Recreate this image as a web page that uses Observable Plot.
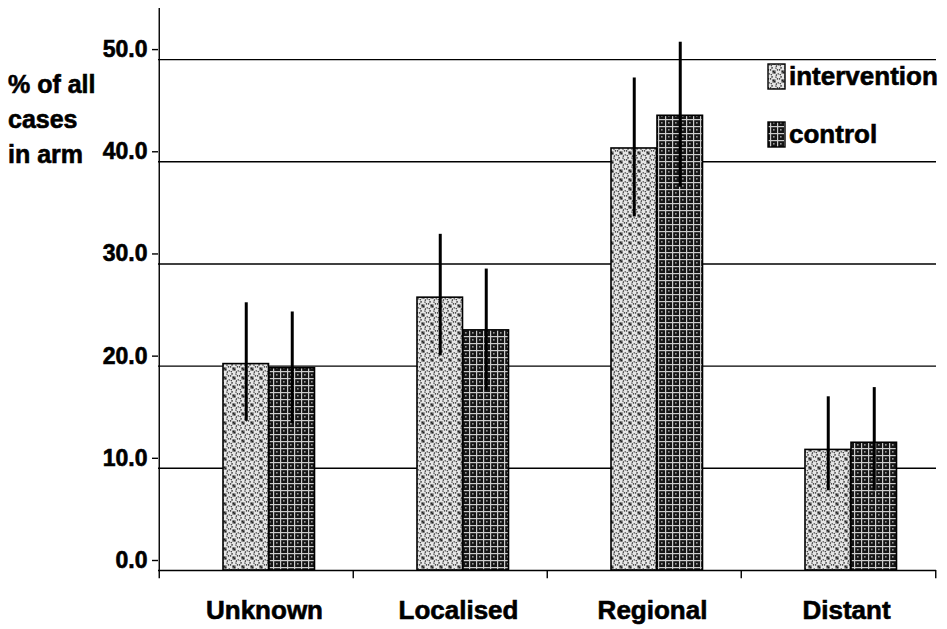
<!DOCTYPE html>
<html>
<head>
<meta charset="utf-8">
<script src="https://cdn.jsdelivr.net/npm/d3@7"></script>
<script src="https://cdn.jsdelivr.net/npm/@observablehq/plot@0.6"></script>
<style>
  html, body { margin: 0; padding: 0; background: #fff; }
  #chart { position: relative; width: 947px; height: 629px; }
</style>
</head>
<body>
<div id="chart"></div>
<script>
// ---- data ----
const categories = ["Unknown", "Localised", "Regional", "Distant"];
const seriesNames = ["intervention", "control"];
const intervention = [20.2, 26.7, 41.3, 11.8];
const interventionLow = [14.6, 21.0, 34.6, 7.8];
const interventionHigh = [26.2, 32.9, 48.2, 17.0];
const control = [19.8, 23.5, 44.5, 12.5];
const controlLow = [14.4, 17.6, 37.5, 7.8];
const controlHigh = [25.3, 29.5, 51.7, 17.9];
const yTicks = [0, 10, 20, 30, 40, 50];
const yLabelLines = ["% of all", "cases", "in arm"];

const intData = categories.map((c, i) => ({cat: c, v: intervention[i], lo: interventionLow[i], hi: interventionHigh[i]}));
const ctlData = categories.map((c, i) => ({cat: c, v: control[i], lo: controlLow[i], hi: controlHigh[i]}));

const FONT = "'Liberation Sans', Arial, Helvetica, sans-serif";
const W = 947, H = 629;
const mL = 158, mR = 11, mT = 8, mB = 59;
const bw = (W - mL - mR) / categories.length;

const svg = Plot.plot({
  width: W, height: H,
  marginLeft: mL, marginRight: mR, marginTop: mT, marginBottom: mB,
  style: {fontFamily: FONT, fontWeight: "bold", background: "#fff", color: "#000", overflow: "visible"},
  x: {domain: categories, padding: 0, label: null},
  y: {domain: [0, 55], label: null},
  marks: [
    Plot.ruleY(yTicks.filter(d => d > 0), {stroke: "#000", strokeWidth: 1.4}),
    Plot.barY(intData, {x: "cat", y: "v", fill: "url(#patInt)", stroke: "#000", strokeWidth: 1.6,
      insetLeft: 64, insetRight: bw - 110}),
    Plot.barY(ctlData, {x: "cat", y: "v", fill: "url(#patCtl)", stroke: "#000", strokeWidth: 1.6,
      insetLeft: 110, insetRight: bw - 156}),
    Plot.ruleX(intData, {x: "cat", y1: "lo", y2: "hi", dx: 87 - bw / 2, stroke: "#000", strokeWidth: 3}),
    Plot.ruleX(ctlData, {x: "cat", y1: "lo", y2: "hi", dx: 133 - bw / 2, stroke: "#000", strokeWidth: 3}),
    Plot.ruleY([0], {stroke: "#000", strokeWidth: 1.6}),
    // category boundary ticks below the x axis
    Plot.ruleX(categories, {x: d => d, dx: -bw / 2, y1: 0, y2: -0.8, stroke: "#000", strokeWidth: 1.4}),
    Plot.ruleX(categories.slice(-1), {x: d => d, dx: bw / 2, y1: 0, y2: -0.8, stroke: "#000", strokeWidth: 1.4}),
    Plot.axisX({tickSize: 0, tickPadding: 30, fontSize: 26, fontWeight: "bold", label: null, dx: 8}),
    Plot.axisY({ticks: yTicks, tickFormat: d3.format(".1f"), tickSize: 6, tickPadding: 5, fontSize: 23,
      fontWeight: "bold", label: null, dy: -10, strokeWidth: 1.4}),
    Plot.ruleX([categories[0]], {dx: -bw / 2, y1: 0, y2: 55, stroke: "#000", strokeWidth: 1.4})
  ]
});

// patterns
const defs = d3.select(svg).insert("defs", ":first-child");
const pi = defs.append("pattern").attr("id", "patInt").attr("patternUnits", "userSpaceOnUse")
  .attr("width", 9).attr("height", 9);
pi.append("rect").attr("width", 9).attr("height", 9).attr("fill", "#e6e6e6");
pi.append("circle").attr("cx", 4.5).attr("cy", 4.5).attr("r", 2.6).attr("fill", "none")
  .attr("stroke", "#2a2a2a").attr("stroke-width", 1.2).attr("stroke-dasharray", "1.3 0.9");
pi.append("rect").attr("x", 0).attr("y", 0).attr("width", 1.6).attr("height", 1.6).attr("fill", "#222");
pi.append("rect").attr("x", 7.4).attr("y", 7.4).attr("width", 1.6).attr("height", 1.6).attr("fill", "#222");
pi.append("rect").attr("x", 7.4).attr("y", 0).attr("width", 1.6).attr("height", 1.6).attr("fill", "#555");
pi.append("rect").attr("x", 0).attr("y", 7.4).attr("width", 1.6).attr("height", 1.6).attr("fill", "#555");

const pc = defs.append("pattern").attr("id", "patCtl").attr("patternUnits", "userSpaceOnUse")
  .attr("width", 7).attr("height", 7);
pc.append("rect").attr("width", 7).attr("height", 7).attr("fill", "#151515");
pc.append("rect").attr("x", 0).attr("y", 0).attr("width", 7).attr("height", 1.2).attr("fill", "#cccccc");
pc.append("rect").attr("x", 0).attr("y", 0).attr("width", 1.2).attr("height", 7).attr("fill", "#cccccc");
pc.append("rect").attr("x", 3).attr("y", 3).attr("width", 1.6).attr("height", 1.6).attr("fill", "#999");

const s = d3.select(svg);
// y label (three lines)
const yl = s.append("text").attr("font-family", FONT).attr("font-weight", "bold").attr("font-size", 25)
  .attr("fill", "#000").attr("text-anchor", "start");
yLabelLines.forEach((t, i) => {
  yl.append("tspan").attr("x", 8).attr("y", 93 + i * 35).text(t);
});

// legend
const legY = [64, 122];
const fills = ["url(#patInt)", "url(#patCtl)"];
seriesNames.forEach((name, i) => {
  s.append("rect").attr("x", 768).attr("y", legY[i]).attr("width", 17).attr("height", 25)
    .attr("fill", fills[i]).attr("stroke", "#000").attr("stroke-width", 1.4);
  s.append("text").attr("x", 789).attr("y", legY[i] + 21).attr("font-family", FONT)
    .attr("text-anchor", "start")
    .attr("font-weight", "bold").attr("font-size", 26).attr("fill", "#000").text(name);
});

// heavier, scan-like text weight
s.selectAll("text").attr("stroke", "#000").attr("stroke-width", 0.6).attr("paint-order", "stroke");

document.getElementById("chart").appendChild(svg);
</script>
</body>
</html>
